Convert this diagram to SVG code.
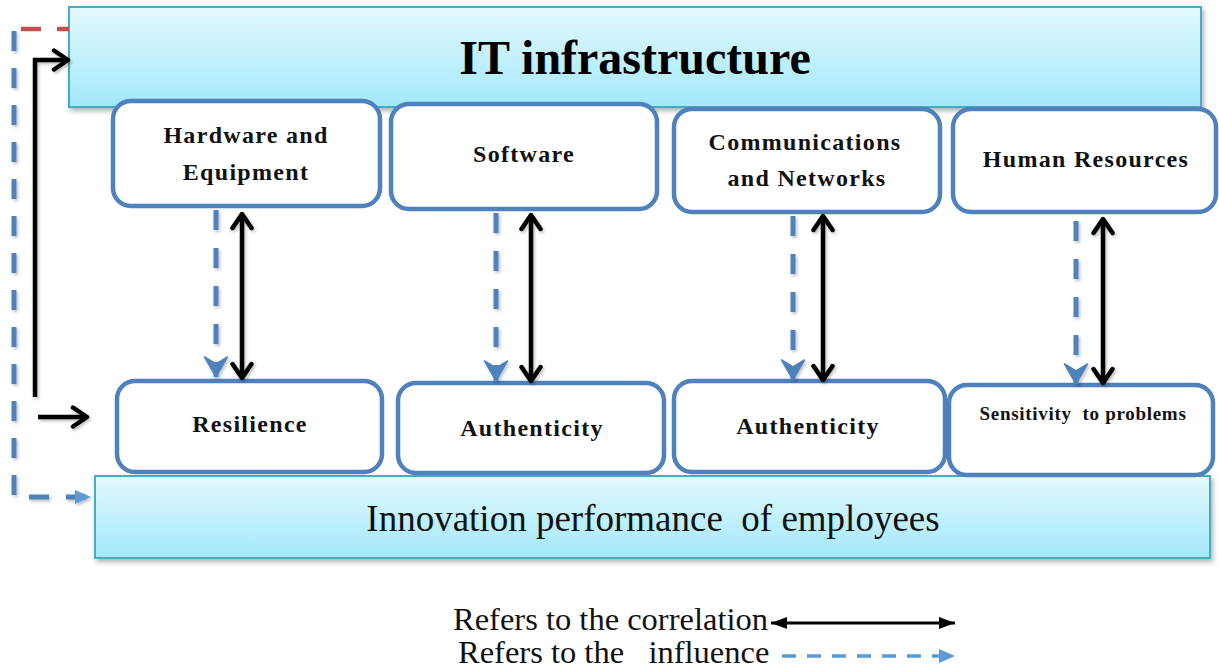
<svg xmlns="http://www.w3.org/2000/svg" width="1219" height="668" viewBox="0 0 1219 668">
  <defs>
    <linearGradient id="band" x1="0" y1="0" x2="0" y2="1">
      <stop offset="0" stop-color="#e3f9fe"/>
      <stop offset="1" stop-color="#a2e8fb"/>
    </linearGradient>
    <filter id="shadow" x="-5%" y="-10%" width="110%" height="130%">
      <feDropShadow dx="2" dy="3" stdDeviation="2.5" flood-color="#000" flood-opacity="0.3"/>
    </filter>
    <!-- user-space region so straight lines (zero-width boxes) still render -->
    <filter id="lshadow" filterUnits="userSpaceOnUse" x="0" y="0" width="1219" height="668">
      <feDropShadow dx="1.5" dy="2" stdDeviation="1.5" flood-color="#000" flood-opacity="0.25"/>
    </filter>
    <!-- open chevron head for correlation arrows -->
    <marker id="chev" viewBox="0 0 24 24" markerWidth="24" markerHeight="24" refX="20" refY="12" orient="auto-start-reverse" markerUnits="userSpaceOnUse">
      <path d="M6,2.5 L20,12 L6,21.5" fill="none" stroke="#000" stroke-width="4.5" stroke-linecap="round" stroke-linejoin="round"/>
    </marker>
    <!-- notched head for influence arrows -->
    <marker id="vee" viewBox="0 0 22 26" markerWidth="22" markerHeight="26" refX="21" refY="13" orient="auto" markerUnits="userSpaceOnUse">
      <path d="M1,1.5 L21,13 L1,24.5 L8,13 Z" fill="#4f81bd" stroke="#4f81bd" stroke-width="1.5" stroke-linejoin="round"/>
    </marker>
    <!-- filled triangle heads -->
    <marker id="tri" viewBox="0 0 16 14" markerWidth="16" markerHeight="14" refX="16" refY="7" orient="auto" markerUnits="userSpaceOnUse">
      <path d="M0,0 L16,7 L0,14 Z" fill="#5b9bd5"/>
    </marker>
    <marker id="tblk" viewBox="0 0 16 12" markerWidth="16" markerHeight="12" refX="16" refY="6" orient="auto-start-reverse" markerUnits="userSpaceOnUse">
      <path d="M0,0 L16,6 L0,12 Z" fill="#000"/>
    </marker>
  </defs>
  <style>
    .band { fill: url(#band); stroke: #4aaac4; stroke-width: 2; filter: url(#shadow); }
    .node { fill: #ffffff; stroke: #4f81bd; stroke-width: 4.5; }
    .lbl { font-family: "Liberation Serif", "Times New Roman", serif; font-weight: bold; font-size: 24px; letter-spacing: 1.3px; fill: #111; text-anchor: middle; }
    .title { font-family: "Liberation Serif", "Times New Roman", serif; font-weight: bold; font-size: 48px; fill: #000; text-anchor: middle; }
    .plain { font-family: "Liberation Serif", "Times New Roman", serif; font-size: 37px; fill: #111; text-anchor: middle; }
    .legend { font-family: "Liberation Serif", "Times New Roman", serif; font-size: 32.5px; fill: #111; }
    .corr { fill: none; stroke: #000; stroke-width: 4.5; marker-start: url(#chev); marker-end: url(#chev); filter: url(#lshadow); }
    .infl { fill: none; stroke: #4f81bd; stroke-width: 5; stroke-dasharray: 20 18; marker-end: url(#vee); filter: url(#lshadow); }
  </style>

  <rect width="1219" height="668" fill="#ffffff"/>

  <!-- outer bands -->
  <g id="it-infrastructure">
    <rect class="band" x="69" y="7" width="1132" height="100"/>
    <text class="title" x="635" y="74">IT infrastructure</text>
  </g>
  <g id="innovation-performance">
    <rect class="band" x="95" y="476" width="1115" height="82"/>
    <text class="plain" x="653" y="531" xml:space="preserve">Innovation performance  of employees</text>
  </g>

  <!-- infrastructure components -->
  <g id="hardware">
    <rect class="node" x="113" y="101" width="267" height="105" rx="18"/>
    <text class="lbl" x="246" y="143">Hardware and</text>
    <text class="lbl" x="246" y="180">Equipment</text>
  </g>
  <g id="software">
    <rect class="node" x="391" y="104" width="266" height="105" rx="18"/>
    <text class="lbl" x="524" y="162">Software</text>
  </g>
  <g id="communications">
    <rect class="node" x="674" y="109" width="266" height="103" rx="18"/>
    <text class="lbl" x="805" y="150">Communications</text>
    <text class="lbl" x="807" y="186">and Networks</text>
  </g>
  <g id="human-resources">
    <rect class="node" x="953" y="109" width="263" height="103" rx="18"/>
    <text class="lbl" x="1086" y="167">Human Resources</text>
  </g>

  <!-- innovation dimensions -->
  <g id="resilience">
    <rect class="node" x="117" y="381" width="265" height="91" rx="18"/>
    <text class="lbl" x="250" y="432">Resilience</text>
  </g>
  <g id="authenticity-1">
    <rect class="node" x="398" y="383" width="266" height="90" rx="18"/>
    <text class="lbl" x="532" y="436">Authenticity</text>
  </g>
  <g id="authenticity-2">
    <rect class="node" x="674" y="381" width="271" height="91" rx="18"/>
    <text class="lbl" x="808" y="434">Authenticity</text>
  </g>
  <g id="sensitivity">
    <rect class="node" x="949" y="385" width="264" height="90" rx="18"/>
    <text class="lbl" x="1083" y="420" style="font-size:19px;letter-spacing:0.7px" xml:space="preserve">Sensitivity  to problems</text>
  </g>

  <!-- connectors -->
  <g id="connectors">
    <line class="infl" x1="216" y1="210" x2="216" y2="377"/>
    <line class="corr" x1="242" y1="214" x2="242" y2="378"/>
    <line class="infl" x1="496" y1="213" x2="496" y2="381"/>
    <line class="corr" x1="531" y1="215" x2="531" y2="381"/>
    <line class="infl" x1="793" y1="216" x2="793" y2="380"/>
    <line class="corr" x1="823" y1="216" x2="823" y2="380"/>
    <line class="infl" x1="1076" y1="221" x2="1076" y2="384"/>
    <line class="corr" x1="1103" y1="219" x2="1103" y2="383"/>

    <!-- feedback loops on the left -->
    <line x1="21" y1="29" x2="69" y2="29" stroke="#c0504d" stroke-width="4.5" stroke-dasharray="20 16"/>
    <polyline points="14,31 14,497 91,497" fill="none" stroke="#4f81bd" stroke-width="5" stroke-dasharray="20 17" marker-end="url(#tri)" filter="url(#lshadow)"/>
    <polyline points="35,397 35,60 68,60" fill="none" stroke="#000" stroke-width="4.5" marker-end="url(#chev)" filter="url(#lshadow)"/>
    <line x1="38" y1="417" x2="87" y2="417" stroke="#000" stroke-width="4.5" marker-end="url(#chev)" filter="url(#lshadow)"/>
  </g>

  <!-- key -->
  <g id="legend">
    <text class="legend" x="453" y="630">Refers to the correlation</text>
    <line x1="771" y1="623" x2="955" y2="623" stroke="#000" stroke-width="3" marker-start="url(#tblk)" marker-end="url(#tblk)"/>
    <text class="legend" x="458" y="663" xml:space="preserve">Refers to the   influence</text>
    <line x1="782" y1="656" x2="955" y2="656" stroke="#5b9bd5" stroke-width="3.5" stroke-dasharray="14 11" marker-end="url(#tri)"/>
  </g>
</svg>
